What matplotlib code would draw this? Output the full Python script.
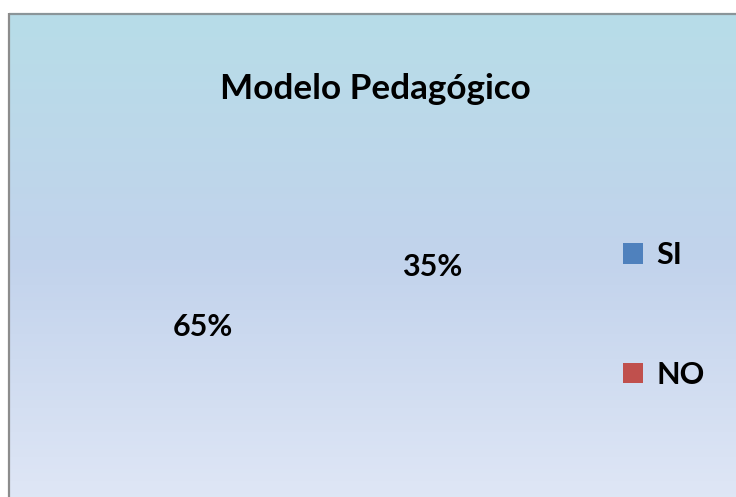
import numpy as np
import matplotlib
matplotlib.use("Agg")
import matplotlib.pyplot as plt
from matplotlib.patches import Patch
from matplotlib.colors import LinearSegmentedColormap

title = "Modelo Pedagógico"
categories = ["SI", "NO"]
values = [35, 65]
colors = ["#4f81bd", "#c0504d"]

W, H, DPI = 736, 497, 100
fig = plt.figure(figsize=(W / DPI, H / DPI), dpi=DPI)
fig.patch.set_facecolor("white")

# background frame with vertical gradient
bg = fig.add_axes([0, 0, 1, 1])
bg.axis("off")
cmap = LinearSegmentedColormap.from_list(
    "bg", [(0.0, (183/255, 221/255, 232/255)),
           (0.5, (194/255, 211/255, 236/255)),
           (1.0, (224/255, 231/255, 246/255))])
grad = np.linspace(0, 1, 256).reshape(-1, 1)
bg.imshow(grad, cmap=cmap, aspect="auto", extent=(9, W + 10, H + 10, 14), interpolation="bilinear")
bg.plot([9, W + 10], [13.5, 13.5], color="#8a9599", lw=1.6, solid_capstyle="butt")
bg.plot([9, 9], [13, H + 10], color="#8c8c8c", lw=1.6, solid_capstyle="butt")
bg.set_xlim(0, W)
bg.set_ylim(H, 0)

font = "Lato"
fig.text(375 / W, (H - 99) / H, title, ha="center", va="baseline",
         fontsize=25.3, fontweight="bold", family=font, color="black")

# pie (wedges invisible as in reference)
cx, cy, r = 317.5, 297, 118
ax = fig.add_axes([(cx - r) / W, (H - cy - r) / H, 2 * r / W, 2 * r / H])
wedges, texts = ax.pie(values, colors=colors, startangle=77.5, counterclock=False,
                       radius=1, labels=[f"{v}%" for v in values], labeldistance=1.0,
                       textprops=dict(fontsize=22, fontweight="bold", family=font))
ax.set_xlim(-1, 1)
ax.set_ylim(-1, 1)
ax.set_aspect("auto")
ax.axis("off")
for t in texts:
    t.set_ha("center")
    t.set_va("center")
for w in wedges:
    w.set_visible(False)

handles = [Patch(facecolor=c, edgecolor="none", label=l) for c, l in zip(colors, categories)]
leg = fig.legend(handles=handles, loc="center left", bbox_to_anchor=(623 / W, (H - 315) / H),
                 frameon=False, prop=dict(family=font, weight="bold", size=22),
                 handlelength=0.65, handleheight=0.65, handletextpad=0.45,
                 labelspacing=3.0, borderpad=0, borderaxespad=0)

fig.savefig("out.png", dpi=DPI)
